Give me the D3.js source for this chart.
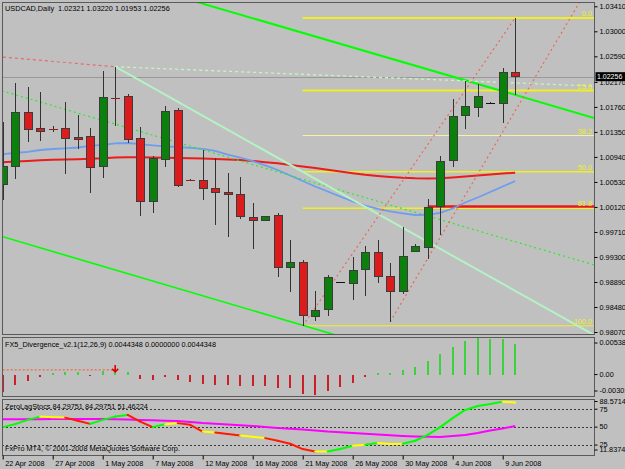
<!DOCTYPE html>
<html>
<head>
<meta charset="utf-8">
<script src="https://d3js.org/d3.v7.min.js"></script>
<style>
  body { margin: 0; background: #c0c0c0; }
  text { font-family: "Liberation Sans", Arial, sans-serif; font-size: 7.3px; fill: #000; }
</style>
</head>
<body>
<script>
// ---------- data ----------
var symbol = "USDCAD,Daily";
var opens  = [1.00496,1.00779,1.01665,1.01409,1.01395,1.01409,1.01262,1.01283,1.00779,1.01903,
              1.01939,1.01245,1.00205,1.00906,1.01709,1.00563,1.00561,1.00422,1.00353,1.00332,
              0.99950,0.99905,0.99987,0.99130,0.99205,0.98331,0.98446,0.98886,0.98867,0.99097,
              0.99369,0.98987,0.98741,0.99392,0.99451,1.00130,1.00878,1.01622,1.01754,1.01822,
              1.01819,1.02321];
var highs  = [1.01517,1.02147,1.02091,1.02009,1.01447,1.01836,1.01627,1.01409,1.02349,1.02419,
              1.01972,1.01435,1.00955,1.01775,1.01737,1.00578,1.01053,1.00917,1.00671,1.00606,
              1.00189,0.99976,1.00015,0.99577,0.99249,0.98741,0.99003,0.98896,0.99303,0.99479,
              0.99577,0.99195,0.99786,0.99507,1.00250,1.00955,1.01885,1.02185,1.02136,1.01835,
              1.02393,1.03220];
var lows   = [1.00233,1.00573,1.01189,1.01206,1.01349,1.00660,1.01065,1.00353,1.00589,1.01447,
              1.01173,0.99976,1.00025,1.00779,1.00451,1.00545,1.00233,0.99823,0.99631,0.99917,
              0.99425,0.99889,0.98966,0.98729,0.98172,0.98249,0.98336,0.98880,0.98593,0.98664,
              0.98867,0.98237,0.98687,0.99392,0.99266,0.99659,1.00779,1.01393,1.01599,1.01815,
              1.01491,1.01953];
var closes = [1.00791,1.01665,1.01393,1.01353,1.01392,1.01239,1.01234,1.00770,1.01918,1.01899,
              1.01229,1.00205,1.00911,1.01693,1.00479,1.00558,1.00425,1.00356,1.00320,0.99959,
              0.99894,0.99959,0.99130,0.99205,0.98342,0.98429,0.98959,0.98890,0.99074,0.99380,
              0.98975,0.98736,0.99303,0.99474,1.00114,1.00868,1.01611,1.01763,1.01927,1.01826,
              1.02318,1.02256];
var maRed  = [1.00852,1.00865,1.00874,1.00885,1.00893,1.00898,1.00903,1.00910,1.00919,1.00933,
              1.00936,1.00934,1.00931,1.00926,1.00923,1.00918,1.00913,1.00906,1.00900,1.00890,
              1.00874,1.00854,1.00836,1.00808,1.00783,1.00759,1.00729,1.00700,1.00672,1.00647,
              1.00628,1.00611,1.00598,1.00590,1.00588,1.00592,1.00603,1.00618,1.00634,1.00651,
              1.00667,1.00682];
var maBlue = [1.00988,1.01005,1.01024,1.01054,1.01070,1.01082,1.01095,1.01120,1.01139,1.01164,
              1.01169,1.01149,1.01131,1.01115,1.01103,1.01090,1.01074,1.01038,1.00980,1.00931,
              1.00870,1.00803,1.00726,1.00636,1.00546,1.00455,1.00374,1.00292,1.00210,1.00144,
              1.00087,1.00046,1.00016,0.99988,0.99992,1.00024,1.00095,1.00193,1.00275,1.00365,
              1.00455,1.00546];
var priceTicks = [1.03410,1.03000,1.02590,1.02170,1.01760,1.01350,1.00940,1.00530,1.00120,
                  0.99710,0.99300,0.98890,0.98480,0.98070];
var bidPrice = 1.02256;

// drawn objects: [bar index, price] anchors
var trendUpper = [[16, 1.03453], [41, 1.01957]];
var trendLower = [[0, 0.99632], [24, 0.98180]];
var channelMid = [[0, 1.02021], [41, 0.99550]];
var fallSolid  = [[9, 1.02419], [41, 0.98745]];
var fallDotted = [[9, 1.02419], [41, 1.02154]];
var leftDotted = [[0, 1.02577], [9, 1.02419]];
var fibAnchor  = [[24, 0.98172], [41, 1.03220]];
var riseDotted = [[31, 0.98237], [41, 1.01695]];
var redLevel   = [34, 1.00127];
var fibLevels  = [0, 23.6, 38.2, 50, 61.8, 100];

// FX5 divergence histogram
var divName = "FX5_Divergence_v2.1(12,26,9) 0.0044348 0.0000000 0.0044348";
var divHist = [-0.00252,-0.00153,-0.00090,-0.00031,0.00016,0.00038,0.00038,-0.00021,0.00049,0.00049,
               0.00043,-0.00065,-0.00080,-0.00031,-0.00080,-0.00113,-0.00138,-0.00153,-0.00153,-0.00168,
               -0.00168,-0.00175,-0.00202,-0.00202,-0.00280,-0.00301,-0.00237,-0.00187,-0.00119,-0.00031,
               0.00016,0.00024,0.00068,0.00116,0.00200,0.00303,0.00411,0.00500,0.005383,0.00525,
               0.00525,0.0044348];
var divLine = [[0, 0.00068], [9, 0.00068]];
var divTicks = [0.005383, 0, -0.00301];

// ZeroLag stochastic
var stoName = "ZeroLagStocs 84.29751 84.29751 51.46224";
var stoMain = [50.0,54.2,60.1,64.7,63.9,63.3,58.8,54.6,60.1,64.7,
               67.1,57.8,50.0,54.2,55.6,53.2,43.9,42.5,40.3,38.3,
               36.5,34.7,31.0,26.8,19.4,16.1,16.1,19.4,24.0,25.4,
               27.8,26.4,26.8,31.0,39.3,50.0,62.5,74.0,79.6,82.4,
               85.6,84.30];
var stoSignal = [60.9,60.9,60.9,61.1,61.4,61.4,61.4,61.4,61.4,61.1,
                 60.7,60.0,59.5,59.0,58.6,57.2,55.8,54.8,53.7,52.6,
                 51.6,50.2,48.8,47.7,46.7,45.3,43.9,42.9,41.8,40.7,
                 39.7,38.6,37.6,36.9,36.5,36.2,37.6,39.0,41.8,45.3,
                 48.1,51.46];
var stoTicks = [88.5714, 75, 50, 25, 11.83745];
var stoLevels = [75, 50, 25];

var dateTicks = [0,4,8,12,16,20,24,28,32,36,40];
var dateLabels = ["22 Apr 2008","27 Apr 2008","1 May 2008","7 May 2008","12 May 2008","16 May 2008",
                  "21 May 2008","26 May 2008","30 May 2008","4 Jun 2008","9 Jun 2008"];
var copyright = "FxPro MT4, \u00a9 2001-2008 MetaQuotes Software Corp.";

// ---------- layout ----------
var W = 625, H = 469;
var L = 2, R = 594;
var mainTop = 2, mainBot = 334, p2Top = 337, p2Bot = 396, p3Top = 399, p3Bot = 455;

var svg = d3.select("body").append("svg")
    .attr("width", W).attr("height", H)
    .style("display", "block")
    .style("background", "#c0c0c0");

var x  = d3.scaleLinear().domain([0, 41]).range([2.7, 515.2]);
var y  = d3.scaleLinear().domain([0.98070, 1.03410]).range([332, 6.3]);
var y2 = d3.scaleLinear().domain([-0.00301, 0.005383]).range([395, 338]);
var y3 = d3.scaleLinear().domain([11.83745, 88.5714]).range([454.5, 399.5]);

var defs = svg.append("defs");
function addClip(id, top, bot) {
    defs.append("clipPath").attr("id", id).append("rect")
        .attr("x", L).attr("y", top).attr("width", R - L).attr("height", bot - top);
}
addClip("cMain", mainTop, mainBot);
addClip("cP2", p2Top, p2Bot);
addClip("cP3", p3Top, p3Bot);

var kLeft = x.invert(L - 5), kRight = x.invert(R + 5);

// line through two anchors, stretched from k0 to k1
function stretch(a, b, k0, k1) {
    var s = (b[1] - a[1]) / (b[0] - a[0]);
    return [[k0, a[1] + s * (k0 - a[0])], [k1, a[1] + s * (k1 - a[0])]];
}
var priceLine = d3.line().x(function (d) { return x(d[0]); }).y(function (d) { return y(d[1]); });

// ---------- main panel ----------
var gm = svg.append("g").attr("clip-path", "url(#cMain)");

// bid line
gm.append("line")
    .attr("x1", L).attr("x2", R)
    .attr("y1", Math.round(y(bidPrice)) + 0.5).attr("y2", Math.round(y(bidPrice)) + 0.5)
    .attr("stroke", "#9a9a9a").attr("stroke-width", 1);

// fibonacci levels
var fibHi = fibAnchor[1][1], fibLo = fibAnchor[0][1];
var fibW = {0: 2, 23.6: 2, 38.2: 1, 50: 1.5, 61.8: 1.5, 100: 1};
fibLevels.forEach(function (lv) {
    var p = fibHi - (fibHi - fibLo) * lv / 100;
    gm.append("line")
        .attr("x1", x(fibAnchor[0][0])).attr("x2", R)
        .attr("y1", y(p)).attr("y2", y(p))
        .attr("stroke", lv === 38.2 ? "#f4f4a0" : "#f0f020")
        .attr("stroke-width", fibW[lv]);
});

// red horizontal level
gm.append("line")
    .attr("x1", x(redLevel[0])).attr("x2", R)
    .attr("y1", y(redLevel[1])).attr("y2", y(redLevel[1]))
    .attr("stroke", "#e81818").attr("stroke-width", 2.5);

// moving averages
var maLine = d3.line().x(function (d, i) { return x(i); }).y(function (d) { return y(d); });
gm.append("path").datum(maRed).attr("d", maLine)
    .attr("fill", "none").attr("stroke", "#ec1c1c").attr("stroke-width", 2);
gm.append("path").datum(maBlue).attr("d", maLine)
    .attr("fill", "none").attr("stroke", "#6e9cf0").attr("stroke-width", 1.8);

// trend lines
gm.append("path").datum(stretch(trendUpper[0], trendUpper[1], kLeft, kRight)).attr("d", priceLine)
    .attr("fill", "none").attr("stroke", "#00ff00").attr("stroke-width", 2);
gm.append("path").datum(stretch(trendLower[0], trendLower[1], kLeft, kRight)).attr("d", priceLine)
    .attr("fill", "none").attr("stroke", "#00ff00").attr("stroke-width", 1.6);
gm.append("path").datum(stretch(channelMid[0], channelMid[1], kLeft, kRight)).attr("d", priceLine)
    .attr("fill", "none").attr("stroke", "#22f022").attr("stroke-width", 1.2)
    .attr("stroke-dasharray", "2,3");
gm.append("path").datum(stretch(fallSolid[0], fallSolid[1], fallSolid[0][0], kRight)).attr("d", priceLine)
    .attr("fill", "none").attr("stroke", "#b4f2c4").attr("stroke-width", 2);
gm.append("path").datum(stretch(fallDotted[0], fallDotted[1], fallDotted[0][0], kRight)).attr("d", priceLine)
    .attr("fill", "none").attr("stroke", "#c4f6c4").attr("stroke-width", 1.3)
    .attr("stroke-dasharray", "3,3");
gm.append("path").datum(stretch(leftDotted[0], leftDotted[1], kLeft, leftDotted[1][0])).attr("d", priceLine)
    .attr("fill", "none").attr("stroke", "#e86a6a").attr("stroke-width", 1.2)
    .attr("stroke-dasharray", "3,3");
gm.append("path").datum(fibAnchor).attr("d", priceLine)
    .attr("fill", "none").attr("stroke", "#f06050").attr("stroke-width", 1.1)
    .attr("stroke-dasharray", "2,3");
gm.append("path").datum(stretch(riseDotted[0], riseDotted[1], riseDotted[0][0], kRight)).attr("d", priceLine)
    .attr("fill", "none").attr("stroke", "#f06050").attr("stroke-width", 1.1)
    .attr("stroke-dasharray", "2,3");

// candles
var bars = d3.range(opens.length).map(function (i) {
    return { i: i, o: opens[i], h: highs[i], l: lows[i], c: closes[i] };
});
var gc = gm.append("g").attr("shape-rendering", "crispEdges");
gc.selectAll(".wick").data(bars).enter().append("line")
    .attr("x1", function (d) { return Math.round(x(d.i)) + 0.5; })
    .attr("x2", function (d) { return Math.round(x(d.i)) + 0.5; })
    .attr("y1", function (d) { return y(d.h); })
    .attr("y2", function (d) { return y(d.l); })
    .attr("stroke", "#333").attr("stroke-width", 1);
gc.selectAll(".body").data(bars.filter(function (d) { return Math.abs(d.o - d.c) > 0.0001; }))
    .enter().append("rect")
    .attr("x", function (d) { return Math.round(x(d.i)) - 3.5; })
    .attr("width", 8)
    .attr("y", function (d) { return y(Math.max(d.o, d.c)); })
    .attr("height", function (d) { return Math.abs(y(d.o) - y(d.c)); })
    .attr("fill", function (d) { return d.c > d.o ? "#0c800c" : "#dc1c1c"; })
    .attr("stroke", "#3c3c3c").attr("stroke-width", 1);
gc.selectAll(".doji").data(bars.filter(function (d) { return Math.abs(d.o - d.c) <= 0.0001; }))
    .enter().append("line")
    .attr("x1", function (d) { return Math.round(x(d.i)) - 4; })
    .attr("x2", function (d) { return Math.round(x(d.i)) + 5; })
    .attr("y1", function (d) { return Math.round(y(d.c)) + 0.5; })
    .attr("y2", function (d) { return Math.round(y(d.c)) + 0.5; })
    .attr("stroke", function (d) { return d.c < d.o ? "#8a2020" : "#111"; })
    .attr("stroke-width", 1.5);

// fib labels
fibLevels.forEach(function (lv) {
    var p = fibHi - (fibHi - fibLo) * lv / 100;
    svg.append("text").attr("x", R - 2).attr("y", y(p) - 2)
        .attr("text-anchor", "end").style("fill", "#f0f020")
        .text(d3.format(".1f")(lv));
});

// ---------- divergence panel ----------
var g2 = svg.append("g").attr("clip-path", "url(#cP2)");
g2.append("g").attr("shape-rendering", "crispEdges")
    .selectAll("rect").data(divHist).enter().append("rect")
    .attr("x", function (d, i) { return Math.round(x(i)) - 1; })
    .attr("width", 2)
    .attr("y", function (d) { return Math.min(y2(d), y2(0)); })
    .attr("height", function (d) { return Math.max(1, Math.abs(y2(d) - y2(0))); })
    .attr("fill", function (d) { return d >= 0 ? "#3cd23c" : "#cc1e28"; });
var divPath = d3.line().x(function (d) { return x(d[0]); }).y(function (d) { return y2(d[1]); });
g2.append("path").datum(divLine).attr("d", divPath)
    .attr("fill", "none").attr("stroke", "#f06848").attr("stroke-width", 1.2)
    .attr("stroke-dasharray", "2,2");
var ax = x(divLine[1][0]), ay = y2(divLine[1][1]);
g2.append("path")
    .attr("d", "M" + ax + "," + (ay - 5) + "V" + (ay + 1) + "M" + (ax - 3) + "," + (ay - 1) +
               "L" + ax + "," + (ay + 2) + "L" + (ax + 3) + "," + (ay - 1))
    .attr("fill", "none").attr("stroke", "#e00000").attr("stroke-width", 1.6);

// ---------- stochastic panel ----------
var g3 = svg.append("g").attr("clip-path", "url(#cP3)");
stoLevels.forEach(function (v) {
    g3.append("line").attr("x1", L).attr("x2", R)
        .attr("y1", Math.round(y3(v)) + 0.5).attr("y2", Math.round(y3(v)) + 0.5)
        .attr("stroke", "#3a3a3a").attr("stroke-dasharray", "2,2");
});
var stoLine = d3.line().x(function (d, i) { return x(i); }).y(function (d) { return y3(d); });
g3.append("path").datum(stoSignal).attr("d", stoLine)
    .attr("fill", "none").attr("stroke", "#ff00ff").attr("stroke-width", 2);
for (var i = 0; i < stoMain.length - 1; i++) {
    var diff = stoMain[i + 1] - stoMain[i];
    var col = diff >= 2 ? "#00ff00" : (diff <= -2 ? "#ff1a00" : "#ffff00");
    g3.append("line")
        .attr("x1", x(i)).attr("y1", y3(stoMain[i]))
        .attr("x2", x(i + 1)).attr("y2", y3(stoMain[i + 1]))
        .attr("stroke", col).attr("stroke-width", 2).attr("stroke-linecap", "round");
}

// ---------- frames ----------
[[mainTop, mainBot], [p2Top, p2Bot], [p3Top, p3Bot]].forEach(function (p) {
    svg.append("rect").attr("x", L + 0.5).attr("y", p[0] + 0.5)
        .attr("width", R - L).attr("height", p[1] - p[0])
        .attr("fill", "none").attr("stroke", "#5a5a5a").attr("stroke-width", 1);
});

// ---------- axes ----------
var axMain = svg.append("g").attr("transform", "translate(" + (R + 0.5) + ",0)")
    .call(d3.axisRight(y).tickValues(priceTicks).tickFormat(d3.format(".5f")).tickSize(3).tickPadding(2));
axMain.select(".domain").remove();

// current price label
svg.append("rect").attr("x", 595.5).attr("y", y(bidPrice) - 4.5).attr("width", 29.5).attr("height", 9).attr("fill", "#000");
svg.append("text").attr("x", 597).attr("y", y(bidPrice) + 2.5).style("fill", "#fff")
    .style("font-size", "7px").text(d3.format(".5f")(bidPrice));

var ax2 = svg.append("g").attr("transform", "translate(" + (R + 0.5) + ",0)")
    .call(d3.axisRight(y2).tickValues(divTicks)
        .tickFormat(function (d) { return d === 0 ? "0.00" : (d > 0 ? "0.005383" : "-0.00301"); })
        .tickSize(3).tickPadding(2));
ax2.select(".domain").remove();
ax2.selectAll(".tick").attr("transform", function (d) {
    var off = d > 0 ? 5 : (d < 0 ? -4 : 0);
    return "translate(0," + (y2(d) + off) + ")";
});

var ax3 = svg.append("g").attr("transform", "translate(" + (R + 0.5) + ",0)")
    .call(d3.axisRight(y3).tickValues(stoTicks)
        .tickFormat(function (d) { return String(d); })
        .tickSize(3).tickPadding(2));
ax3.select(".domain").remove();
ax3.selectAll(".tick").attr("transform", function (d) {
    var off = d === stoTicks[0] ? 2 : (d === stoTicks[stoTicks.length - 1] ? -4.5 : 0);
    return "translate(0," + (y3(d) + off) + ")";
});

var axX = svg.append("g").attr("transform", "translate(0," + (p3Bot + 0.5) + ")")
    .call(d3.axisBottom(x).tickValues(dateTicks)
        .tickFormat(function (d, i) { return dateLabels[i]; })
        .tickSize(4).tickPadding(1));
axX.select(".domain").remove();
axX.selectAll("text").attr("text-anchor", "start").attr("x", 2);

[axMain, ax2, ax3, axX].forEach(function (a) {
    a.selectAll("line").attr("stroke", "#000");
    a.selectAll("text").style("font-size", "7.3px").style("fill", "#000")
        .style("font-family", "'Liberation Sans', Arial, sans-serif");
});

// ---------- titles ----------
svg.append("text").attr("x", 5).attr("y", 11).attr("xml:space", "preserve")
    .text(symbol + "  " + [opens[41], highs[41], lows[41], closes[41]].map(d3.format(".5f")).join(" "));
svg.append("text").attr("x", 5).attr("y", 347).text(divName);
svg.append("text").attr("x", 5).attr("y", 409).text(stoName);
svg.append("text").attr("x", 5).attr("y", 451).text(copyright);
</script>
</body>
</html>
